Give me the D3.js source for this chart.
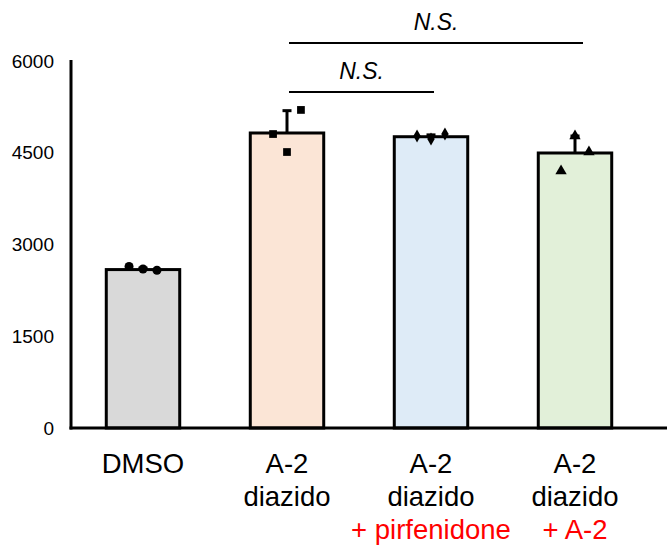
<!DOCTYPE html>
<html>
<head>
<meta charset="utf-8">
<script src="https://cdn.jsdelivr.net/npm/d3@7"></script>
<style>
  body { margin: 0; background: #fff; }
  text { font-family: "Liberation Sans", Arial, sans-serif; }
</style>
</head>
<body>
<div id="chart"></div>
<script>
// data
const categories = ['DMSO', 'A-2 diazido', 'A-2 diazido + pirfenidone', 'A-2 diazido + A-2']
const labelLines = [['DMSO'], ['A-2', 'diazido'], ['A-2', 'diazido', '+ pirfenidone'], ['A-2', 'diazido', '+ A-2']]
const means = [2590, 4823, 4762, 4496]
const errors = [25, 365, 30, 278]
const replicates = [
  [2640, 2600, 2580],
  [4806, 4512, 5200],
  [4774, 4725, 4806],
  [4201, 4774, 4512]
]
const yTicks = [0, 1500, 3000, 4500, 6000]
const comparisons = [
  { from: 1, to: 3, label: 'N.S.', level: 1 },
  { from: 1, to: 2, label: 'N.S.', level: 0 }
]

const fills = ['#d9d9d9', '#fbe5d6', '#deebf7', '#e2f0d9']
const symbols = [d3.symbolCircle, d3.symbolSquare, d3.symbolDiamond, d3.symbolTriangle]
const symbolSizes = [64, 60, 48, 56]
const jitter = [-0.19, 0, 0.19]

const width = 667, height = 547
const axisX = 71, axisBottom = 428, axisTop = 60

const svg = d3.select('#chart').append('svg')
  .attr('width', width)
  .attr('height', height)

const x = d3.scaleBand()
  .domain(categories)
  .range([axisX, 647])
  .paddingInner(0.49)
  .paddingOuter(0.245)

const y = d3.scaleLinear()
  .domain([0, 6000])
  .range([axisBottom, 61])

// y tick labels
const yAxis = d3.axisLeft(y).tickValues(yTicks).tickFormat(d3.format('d')).tickSize(0).tickPadding(17)
const gy = svg.append('g')
  .attr('transform', `translate(${axisX}, 0)`)
  .call(yAxis)
gy.select('.domain').remove()
gy.selectAll('text')
  .style('font-size', '19px')
  .attr('fill', '#000')

// bars
const groups = svg.selectAll('.grp')
  .data(categories)
  .enter()
  .append('g')

groups.append('line')
  .attr('x1', d => x(d) + x.bandwidth() / 2)
  .attr('x2', d => x(d) + x.bandwidth() / 2)
  .attr('y1', (d, i) => y(means[i]))
  .attr('y2', (d, i) => y(means[i] + errors[i]))
  .attr('stroke', '#000')
  .attr('stroke-width', 3)

groups.append('line')
  .attr('x1', d => x(d) + x.bandwidth() / 2 - 4.5)
  .attr('x2', d => x(d) + x.bandwidth() / 2 + 4.5)
  .attr('y1', (d, i) => y(means[i] + errors[i]))
  .attr('y2', (d, i) => y(means[i] + errors[i]))
  .attr('stroke', '#000')
  .attr('stroke-width', 3)

groups.append('rect')
  .attr('x', d => x(d))
  .attr('y', (d, i) => y(means[i]))
  .attr('width', x.bandwidth())
  .attr('height', (d, i) => axisBottom - y(means[i]))
  .attr('fill', (d, i) => fills[i])
  .attr('stroke', '#000')
  .attr('stroke-width', 3)

// replicate points
groups.each(function (d, i) {
  d3.select(this).selectAll('path')
    .data(replicates[i])
    .enter()
    .append('path')
    .attr('d', d3.symbol().type(symbols[i]).size(symbolSizes[i]))
    .attr('transform', (v, j) => `translate(${x(d) + x.bandwidth() / 2 + jitter[j] * x.bandwidth()}, ${y(v)})`)
    .attr('fill', '#000')
})

// axes lines
svg.append('line')
  .attr('x1', axisX).attr('x2', axisX)
  .attr('y1', axisTop).attr('y2', axisBottom + 1.5)
  .attr('stroke', '#000').attr('stroke-width', 3)
svg.append('line')
  .attr('x1', axisX - 1.5).attr('x2', width)
  .attr('y1', axisBottom).attr('y2', axisBottom)
  .attr('stroke', '#000').attr('stroke-width', 3)

// category labels
groups.each(function (d, i) {
  const cx = x(d) + x.bandwidth() / 2
  d3.select(this).selectAll('.lbl')
    .data(labelLines[i])
    .enter()
    .append('text')
    .attr('x', cx)
    .attr('y', (t, j) => 473 + j * 33)
    .attr('text-anchor', 'middle')
    .style('font-size', '27.5px')
    .attr('fill', (t, j) => j === 2 ? '#ff0000' : '#000')
    .text(t => t)
})

// significance brackets
const levelY = [92, 43]
comparisons.forEach(c => {
  const x1 = x(categories[c.from]) + x.bandwidth() / 2 + 2
  const x2 = x(categories[c.to]) + x.bandwidth() / 2 + (c.level ? 8 : 3)
  svg.append('line')
    .attr('x1', x1).attr('x2', x2)
    .attr('y1', levelY[c.level]).attr('y2', levelY[c.level])
    .attr('stroke', '#000').attr('stroke-width', 2.2)
  svg.append('text')
    .attr('x', (x1 + x2) / 2)
    .attr('y', levelY[c.level] - 13)
    .attr('text-anchor', 'middle')
    .style('font-size', '23px')
    .style('font-style', 'italic')
    .text(c.label)
})
</script>
</body>
</html>
